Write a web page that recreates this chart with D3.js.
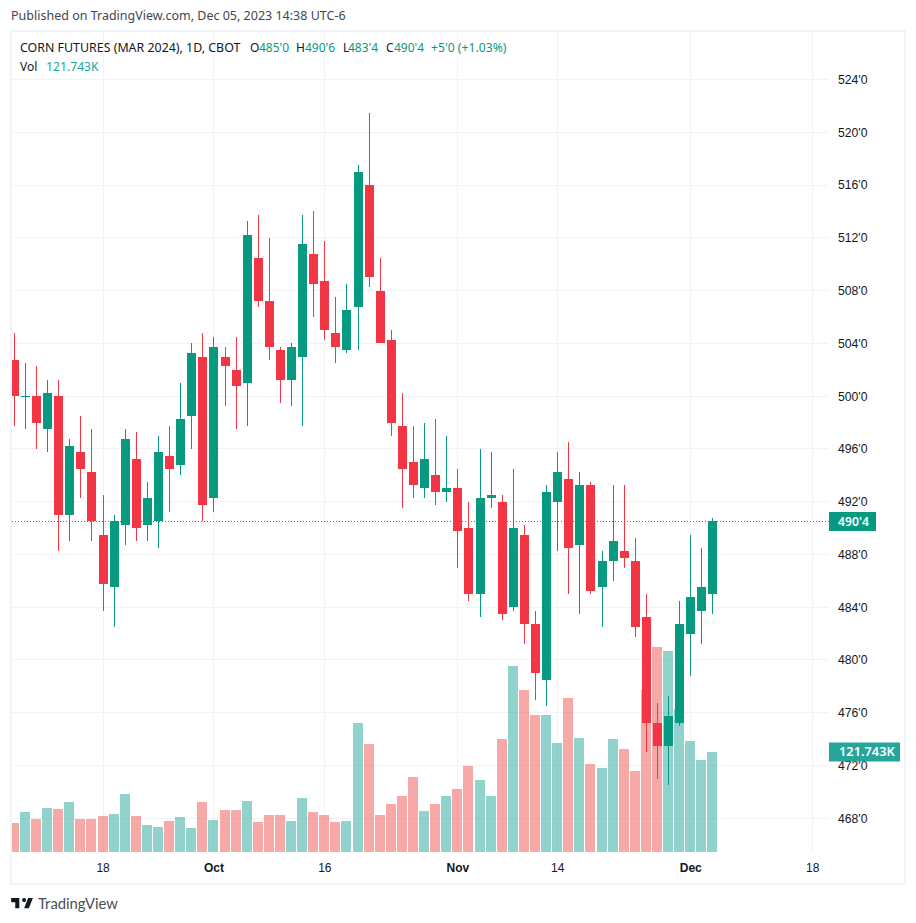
<!DOCTYPE html>
<html>
<head>
<meta charset="utf-8">
<script src="https://cdn.jsdelivr.net/npm/d3@7"></script>
<style>
  html, body { margin: 0; padding: 0; background: #fff; }
  svg { display: block; font-family: "Noto Sans", sans-serif; }
</style>
</head>
<body>
<svg id="chart" width="916" height="923"></svg>
<script>
// candles, one entry per trading day (price in cents)
const opens = [502.75, 500, 500, 497.5, 500, 491, 495.75, 494.25, 489.5, 485.5, 490.25, 495.25, 490.25, 490.5, 495.5, 494.75,
  498.5, 503, 492.25, 503, 502, 501, 510.5, 507.25, 503.5, 501.25, 503, 510.75, 508.75, 504.75, 503.5, 506.75,
  516, 508, 504.25, 497.75, 495, 493, 494, 492.75, 493, 490, 485, 492.25, 492, 484, 489.5, 482.75,
  478.5, 492, 493.75, 488.75, 493.25, 485.5, 487.5, 488.25, 487.5, 483.25, 475.25, 473.5, 475.25, 482, 483.75, 485];
const highs = [504.75, 502.5, 502.25, 501.25, 501.25, 496.75, 498.5, 497.5, 492.5, 491, 497.5, 497.25, 493.5, 497, 497.75, 501,
  504, 504.75, 504.5, 503.75, 504.5, 513.25, 513.75, 512, 503.75, 504, 513.75, 514, 511.75, 507.5, 508.5, 517.5,
  521.5, 510.5, 505, 500.25, 497.75, 498, 498.25, 497, 494.5, 492, 496, 495.75, 492.5, 494.5, 490.25, 483.75,
  493.25, 495.75, 496.5, 494.25, 493.5, 488.25, 493.25, 493.25, 489.25, 485, 476.75, 477.25, 484.5, 489.5, 488.5, 490.75];
const lows = [497.75, 497.5, 496, 495.75, 488.25, 489, 492.25, 489, 483.75, 482.5, 488.75, 489, 489, 488.5, 491.25, 494,
  496, 490.5, 491.25, 499.25, 497.5, 497.75, 506.75, 502.75, 499.5, 499.25, 497.75, 506, 504.25, 502.5, 503.25, 503.5,
  508.25, 504, 497, 491.5, 492.25, 492.25, 491.75, 492, 487, 484.5, 483.25, 491.5, 483, 483.75, 481.25, 477,
  476.5, 488.25, 485, 483.5, 485, 482.5, 486, 487, 481.75, 473, 471, 470.5, 475, 478.75, 481.25, 483.5];
const closes = [500, 500, 498, 500.25, 491, 496.25, 494.5, 490.5, 485.75, 490.5, 496.75, 490, 492.25, 495.75, 494.5, 498.25,
  503.25, 491.75, 503.75, 502.25, 500.75, 512.25, 507.25, 503.75, 501.25, 503.75, 511.5, 508.5, 505, 503.75, 506.5, 517,
  509, 504, 498, 494.5, 493.25, 495.25, 492.75, 493, 489.75, 485, 492.25, 492.5, 483.5, 490, 482.75, 479,
  492.75, 494.25, 488.5, 493.25, 485.25, 487.5, 489, 487.75, 482.5, 475.25, 473.5, 475.75, 482.75, 484.75, 485.5, 490.5];
// volume in thousands
const volumes = [35.3, 48.7, 40.2, 53.6, 52.3, 60.9, 40.2, 40.2, 43.8, 46.3, 70.6, 43.8, 32.9, 30.4, 37.7, 42.6,
  29.2, 60.9, 39, 51.1, 51.1, 62.1, 36.5, 45, 45, 37.7, 65.7, 48.7, 45, 36.5, 37.7, 157,
  131.5, 45, 58.4, 68.2, 91.3, 49.9, 58.4, 68.2, 76.7, 104.7, 87.7, 68.2, 137.6, 226.4, 197.2, 166.8,
  166.8, 132.7, 187.5, 138.8, 107.1, 102.3, 137.6, 125.4, 98.6, 197.2, 249.6, 244.7, 174.1, 135.1, 112, 121.743];

const priceTicks = [524, 520, 516, 512, 508, 504, 500, 496, 492, 488, 484, 480, 476, 472, 468];
const timeTicks = [8, 18, 28, 40, 49, 61, 72];
const timeLabels = ["18", "Oct", "16", "Nov", "14", "Dec", "18"];
const monthLabels = ["Oct", "Nov", "Dec"];
const lastPrice = 490.5;
const lastVolume = 121.743;

const upColor = "#089981", downColor = "#f23645";
const upVol = "rgba(38,166,154,0.5)", downVol = "rgba(239,83,80,0.5)";
const gridColor = "#f2f3f6", frameColor = "#f0f3fa", textColor = "#131722";

const svg = d3.select("#chart");

const paneLeft = 12, paneRight = 829, paneTop = 32, paneBottom = 852;

const x = d3.scaleLinear().domain([0, 63]).range([13.85, 712.4]);
const y = d3.scaleLinear().domain([468, 520]).range([818.3, 132.3]);
const yVol = d3.scaleLinear().domain([0, lastVolume]).range([852, 752]);
const px = (i) => Math.round(x(i));

// frame around the whole chart
svg.append("rect").attr("x", 11).attr("y", 31).attr("width", 894).attr("height", 853)
  .attr("fill", "none").attr("stroke", frameColor).attr("stroke-width", 2);

svg.append("defs").append("clipPath").attr("id", "pane").append("rect")
  .attr("x", paneLeft).attr("y", paneTop)
  .attr("width", paneRight - paneLeft).attr("height", paneBottom - paneTop);

// grid
svg.append("g").selectAll("line").data(priceTicks).enter().append("line")
  .attr("x1", paneLeft).attr("x2", paneRight)
  .attr("y1", (d) => Math.floor(y(d)) + 0.5).attr("y2", (d) => Math.floor(y(d)) + 0.5)
  .attr("stroke", gridColor);
svg.append("g").selectAll("line").data(timeTicks).enter().append("line")
  .attr("x1", (d) => px(d) + 0.5).attr("x2", (d) => px(d) + 0.5)
  .attr("y1", paneTop).attr("y2", paneBottom)
  .attr("stroke", gridColor);

const pane = svg.append("g").attr("clip-path", "url(#pane)");

// volume sits under the candles
pane.append("g").selectAll("rect").data(volumes).enter().append("rect")
  .attr("x", (d, i) => px(i) - 5)
  .attr("width", 10)
  .attr("y", (d) => Math.round(yVol(d)))
  .attr("height", (d) => 852 - Math.round(yVol(d)))
  .attr("fill", (d, i) => closes[i] >= opens[i] ? upVol : downVol);

// last price line
pane.append("line")
  .attr("x1", paneLeft).attr("x2", paneRight)
  .attr("y1", Math.floor(y(lastPrice)) + 0.5).attr("y2", Math.floor(y(lastPrice)) + 0.5)
  .attr("stroke", upColor).attr("stroke-dasharray", "1 2");

const candles = pane.append("g").selectAll("g").data(opens).enter().append("g")
  .attr("fill", (d, i) => closes[i] >= opens[i] ? upColor : downColor);
candles.append("rect")
  .attr("x", (d, i) => px(i))
  .attr("width", 1)
  .attr("y", (d, i) => Math.round(y(highs[i])))
  .attr("height", (d, i) => Math.round(y(lows[i])) - Math.round(y(highs[i])));
candles.append("rect")
  .attr("x", (d, i) => px(i) - 4)
  .attr("width", 9)
  .attr("y", (d, i) => Math.round(y(Math.max(opens[i], closes[i]))))
  .attr("height", (d, i) => Math.max(1, Math.round(y(Math.min(opens[i], closes[i]))) - Math.round(y(Math.max(opens[i], closes[i])))));

// price axis
const priceAxis = d3.axisRight(y).tickValues(priceTicks).tickSize(0).tickPadding(9)
  .tickFormat((d) => d + "'0");
const priceG = svg.append("g").attr("transform", "translate(" + paneRight + ",0)").call(priceAxis);
priceG.select(".domain").remove();
priceG.selectAll("text").attr("fill", textColor).style("font-size", "12.2px").style("font-family", "inherit");

// time axis
const timeAxis = d3.axisBottom(x).tickValues(timeTicks).tickSize(0).tickPadding(11.5)
  .tickFormat((d, i) => timeLabels[i]);
const timeG = svg.append("g").attr("transform", "translate(0," + paneBottom + ")").call(timeAxis);
timeG.select(".domain").remove();
timeG.selectAll("text").attr("fill", textColor).style("font-size", "12px").style("font-family", "inherit")
  .style("font-weight", (d, i) => monthLabels.includes(timeLabels[i]) ? 700 : 400);

// last value labels on the axis
const tag = (text, yPos, w, fill, tx, size) => {
  svg.append("rect").attr("x", paneRight).attr("y", yPos - 9.5).attr("width", w).attr("height", 19).attr("fill", fill);
  svg.append("text").attr("x", tx).attr("y", yPos).attr("dy", "0.35em")
    .attr("fill", "#fff").style("font-size", size).style("font-weight", 600).text(text);
};
tag("490'4", y(lastPrice), 47, upColor, 838, "12.2px");
tag("121.743K", yVol(lastVolume), 71, "#26a69a", 839, "12.8px");

// header and legend
svg.append("text").attr("x", 11).attr("y", 20).attr("fill", "#434651").style("font-size", "12.5px")
  .text("Published on TradingView.com, Dec 05, 2023 14:38 UTC-6");

const legendItems = [
  ["CORN FUTURES (MAR 2024), 1D, CBOT", 20, textColor, "12.4px"],
  ["O", 250, textColor, "12px"], ["485'0", 259, upColor, "12px"],
  ["H", 296, textColor, "12px"], ["490'6", 305, upColor, "12px"],
  ["L", 343, textColor, "12px"], ["483'4", 348, upColor, "12px"],
  ["C", 386, textColor, "12px"], ["490'4", 394, upColor, "12px"],
  ["+5'0 (+1.03%)", 431, upColor, "12.2px"]
];
svg.append("g").selectAll("text").data(legendItems).enter().append("text")
  .attr("x", (d) => d[1]).attr("y", 52).attr("fill", (d) => d[2])
  .style("font-size", (d) => d[3]).text((d) => d[0]);
svg.append("text").attr("x", 20).attr("y", 71).attr("fill", textColor).style("font-size", "12px").text("Vol");
svg.append("text").attr("x", 46).attr("y", 71).attr("fill", "#26a69a").style("font-size", "12.2px").text("121.743K");

// logo and wordmark
svg.append("path")
  .attr("transform", "translate(9.8,894) scale(0.68)")
  .attr("fill", "#131722")
  .attr("d", "M14 6H2v6h6v9h6V6zm14 15h-7l6-15h7l-6 15zm-7-9a3 3 0 1 0 0-6 3 3 0 0 0 0 6z");
svg.append("text").attr("x", 38).attr("y", 909).attr("fill", "#4a4e59")
  .style("font-family", "Lato, sans-serif").style("font-size", "14.8px").text("TradingView");
</script>
</body>
</html>
